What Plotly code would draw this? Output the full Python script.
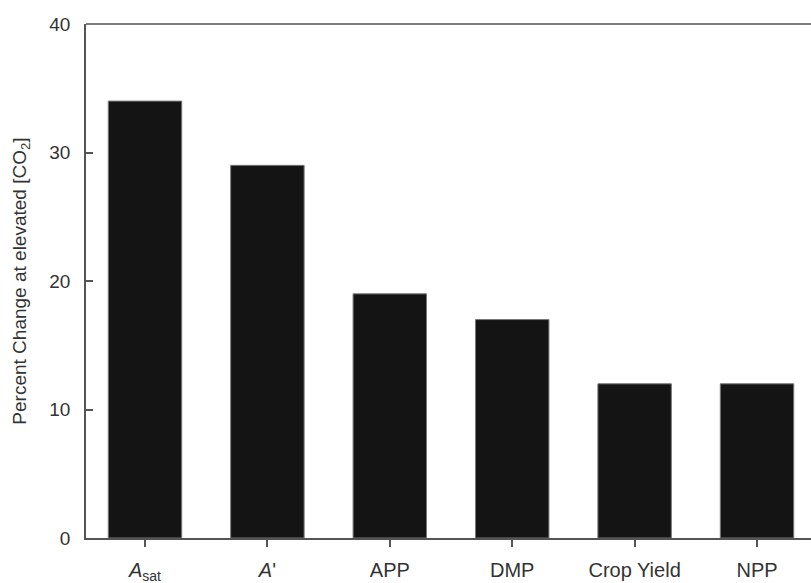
import plotly.graph_objects as go

categories = ["<i>A</i><sub>sat</sub>", "<i>A</i>'", "APP", "DMP", "Crop Yield", "NPP"]
values = [34, 29, 19, 17, 12, 12]
y_ticks = [0, 10, 20, 30, 40]

x_pos = list(range(len(categories)))

fig = go.Figure()
fig.add_trace(go.Bar(
    x=x_pos, y=values, width=0.6,
    marker=dict(color="#141414", line=dict(color="#777777", width=1)),
))

axis_col = "#555555"
font_fam = "Liberation Sans, Arial, sans-serif"

fig.update_layout(
    width=811, height=583,
    margin=dict(l=86, r=0, t=24, b=45, autoexpand=False),
    paper_bgcolor="white", plot_bgcolor="white",
    showlegend=False,
    font=dict(family=font_fam, color="#333333", size=19),
    xaxis=dict(
        range=[-0.482, 5.441], tickmode="array", tickvals=x_pos, ticktext=categories,
        showline=True, linecolor=axis_col, linewidth=1.5, ticks="outside", ticklen=7,
        tickcolor=axis_col, tickwidth=1.5, showgrid=False, zeroline=False, automargin=False,
        tickfont=dict(size=20, color="#333333"), ticklabelstandoff=6,
    ),
    yaxis=dict(
        range=[0, 40], tickmode="array", tickvals=y_ticks, automargin=False,
        showline=True, linecolor=axis_col, linewidth=1.5, ticks="inside", ticklen=7,
        tickcolor=axis_col, tickwidth=1.5, showgrid=False, zeroline=False,
        tickfont=dict(size=19, color="#333333"), ticklabelstandoff=10,
        title=dict(text="Percent Change at elevated [CO<sub>2</sub>]",
                   font=dict(size=19, color="#333333"), standoff=18),
    ),
    shapes=[dict(type="line", xref="paper", yref="paper", x0=0, x1=1, y0=1, y1=1,
                 line=dict(color=axis_col, width=1.5))],
)

fig.write_html("out.html", config={"displayModeBar": False},
               post_script="document.body.style.margin='0';document.body.style.overflow='hidden';")
